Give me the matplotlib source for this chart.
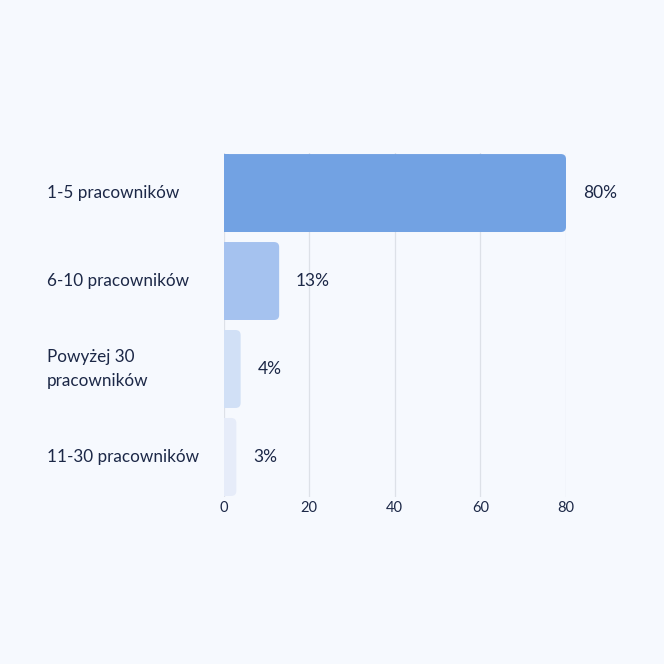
import matplotlib.pyplot as plt
from matplotlib.patches import FancyBboxPatch, Rectangle
import matplotlib.transforms as mtransforms

categories = ["1-5 pracowników", "6-10 pracowników", "Powyżej 30\npracowników", "11-30 pracowników"]
values = [80, 13, 4, 3]
colors = ["#72a2e3", "#a5c2ef", "#d1e0f6", "#e6ecf9"]
ticks = [0, 20, 40, 60, 80]

bg = "#f6f9fe"
text_color = "#1c2847"

plt.rcParams['font.family'] = ['Lato', 'DejaVu Sans']

fig = plt.figure(figsize=(6.64, 6.64), dpi=100, facecolor=bg)
ax = fig.add_axes([223.5 / 664, 167 / 664, 342.5 / 664, 344 / 664])
ax.set_facecolor(bg)

bars = ax.barh(range(len(values)), values, height=0.886, color="none")
rx = 1.2
aspect = (5 / 88) / rx
for bar, c in zip(bars, colors):
    x, y = bar.get_x(), bar.get_y()
    w, h = bar.get_width(), bar.get_height()
    ax.add_patch(FancyBboxPatch((x, y), w, h, boxstyle=f"round,pad=0,rounding_size={rx}",
                                mutation_aspect=aspect, facecolor=c, edgecolor="none", zorder=3))
    ax.add_patch(Rectangle((x, y), min(w, rx), h, facecolor=c, edgecolor="none", zorder=3))

for i, v in enumerate(values):
    ax.annotate(f"{v}%", xy=(v, i), xytext=(12, 0), textcoords="offset points",
                ha="left", va="center", fontsize=12.5, color=text_color)

trans = mtransforms.blended_transform_factory(fig.transFigure, ax.transData)
for i, cat in enumerate(categories):
    ax.text(47 / 664, i, cat, transform=trans, ha="left", va="center",
            fontsize=12.3, color=text_color, linespacing=1.6)

ax.set_xlim(0, 80)
ax.set_ylim(3.455, -0.455)
ax.set_xticks(ticks)
ax.set_yticks([])
ax.tick_params(axis="x", length=0, pad=3, labelsize=10.5, labelcolor=text_color)
ax.grid(axis="x", color="#dde1e8", linewidth=0.9, zorder=0)
ax.set_axisbelow(True)
for s in ax.spines.values():
    s.set_visible(False)

fig.savefig("out.png", dpi=100, facecolor=bg)
